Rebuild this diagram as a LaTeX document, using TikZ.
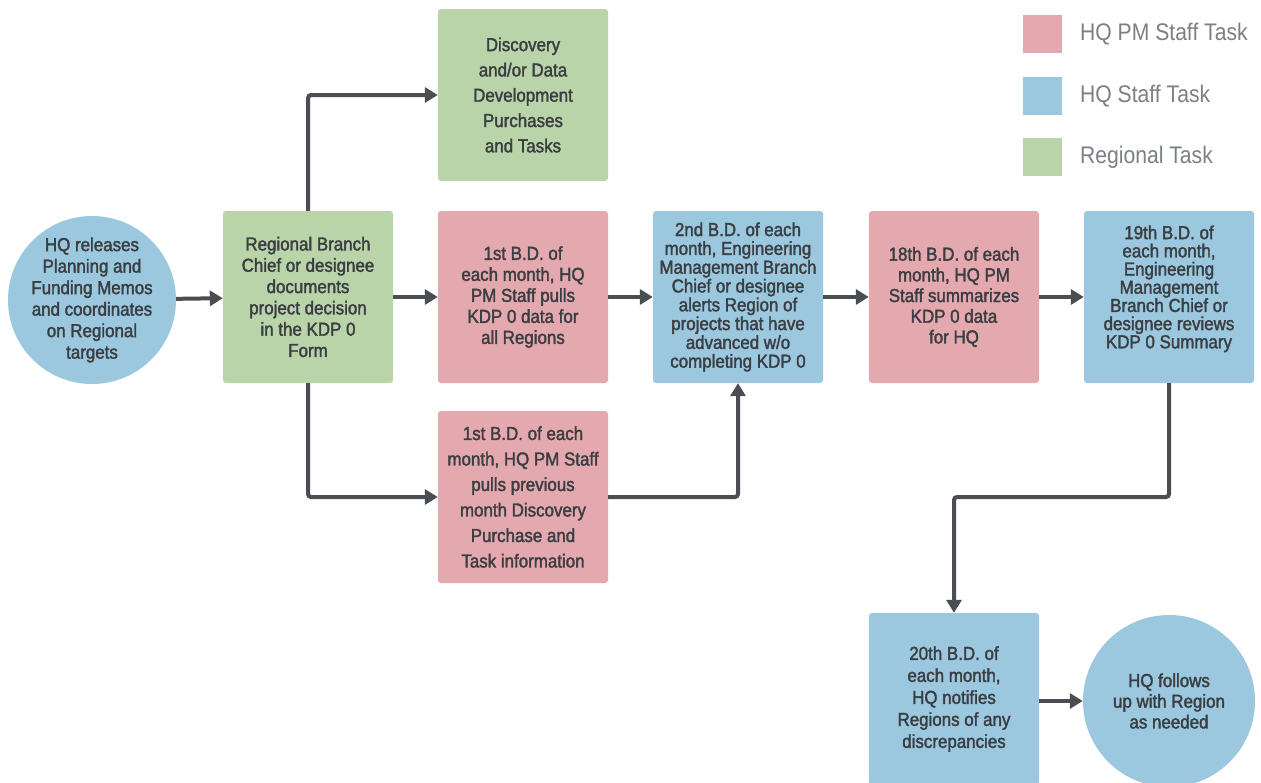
\documentclass[tikz,border=0pt]{standalone}
\usepackage{fontspec}
\setmainfont{Liberation Sans}[FakeStretch=0.88]
\newfontfamily\boxfont{Liberation Sans}[FakeStretch=0.9,FakeBold=1.8]
\usetikzlibrary{arrows.meta}

\definecolor{regional}{HTML}{BAD4AA}
\definecolor{pmstaff}{HTML}{E3A9AF}
\definecolor{hqstaff}{HTML}{9BC8DE}
\definecolor{flowgray}{HTML}{4A4D51}
\definecolor{boxtext}{HTML}{3A3D41}
\definecolor{legendtext}{HTML}{7B8086}

\tikzset{
  x=1pt, y=-1pt,
  lead/.style={font=\boxfont\fontsize{18.8}{#1}\selectfont},
  taskbox/.style={rounded corners=3pt, minimum width=170pt, minimum height=172pt,
    inner sep=0pt, align=center, text=boxtext, lead=21.5},
  hqround/.style={circle, minimum size=168pt, inner sep=0pt, align=center,
    fill=hqstaff, text=boxtext, lead=21.5},
  steptext/.style={inner sep=0pt, align=center, text=boxtext, lead=#1},
  flow/.style={draw=flowgray, line width=4pt, rounded corners=3pt,
    -{Triangle[length=13pt,width=15pt]}},
  swatch/.style={minimum width=39pt, minimum height=38pt, inner sep=0pt},
  legendlabel/.style={anchor=west, inner sep=0pt, text=legendtext,
    font=\fontsize{24}{27}\selectfont},
}

\begin{document}
\begin{tikzpicture}
\useasboundingbox[fill=white] (0,0) rectangle (1261,782);
\clip (0,0) rectangle (1261,782);

% legend
\node[swatch, fill=pmstaff] (lg1) at (1042,34) {};
\node[swatch, fill=hqstaff] (lg2) at (1042,96) {};
\node[swatch, fill=regional] (lg3) at (1042,157) {};
\node[legendlabel] (lt1) at (1080,34) {HQ PM Staff Task};
\node[legendlabel] (lt2) at (1080,96) {HQ Staff Task};
\node[legendlabel] (lt3) at (1080,157) {Regional Task};

% process steps
\node[hqround] (start) at (92,300) {};
\node[steptext=21.5] (startt) at (start.center) {HQ releases\\Planning and\\Funding Memos\\and coordinates\\on Regional\\targets};
\node[taskbox, fill=regional, lead=21.3] (decide) at (308,297) {Regional Branch\\Chief or designee\\documents\\project decision\\in the KDP 0\\Form};
\node[taskbox, fill=regional, lead=25.3] (disc) at (523,95) {Discovery\\and/or Data\\Development\\Purchases\\and Tasks};
\node[taskbox, fill=pmstaff, lead=21] (pull) at (523,297) {1st B.D. of\\each month, HQ\\PM Staff pulls\\KDP 0 data for\\all Regions};
\node[taskbox, fill=pmstaff, lead=25.5] (prev) at (523,497) {1st B.D. of each\\month, HQ PM Staff\\pulls previous\\month Discovery\\Purchase and\\Task information};
\node[taskbox, fill=hqstaff, lead=18.8] (alert) at (738,297) {2nd B.D. of each\\month, Engineering\\Management Branch\\Chief or designee\\alerts Region of\\projects that have\\advanced w/o\\completing KDP 0};
\node[taskbox, fill=pmstaff, lead=20.7] (summ) at (954,297) {18th B.D. of each\\month, HQ PM\\Staff summarizes\\KDP 0 data\\for HQ};
\node[taskbox, fill=hqstaff, lead=18.2] (review) at (1169,297) {19th B.D. of\\each month,\\Engineering\\Management\\Branch Chief or\\designee reviews\\KDP 0 Summary\\[2pt]};
\node[taskbox, fill=hqstaff, lead=22] (notify) at (954,699) {20th B.D. of\\each month,\\HQ notifies\\Regions of any\\discrepancies};
\node[hqround, minimum size=172pt, lead=20.7] (follow) at (1169,701) {HQ follows\\up with Region\\as needed};

% connectors
\draw[flow] (start) -- (decide);
\draw[flow] (decide) -- (pull);
\draw[flow] (decide.north) |- (disc.west);
\draw[flow] (decide.south) |- (prev.west);
\draw[flow] (pull) -- (alert);
\draw[flow] (prev.east) -| (alert.south);
\draw[flow] (alert) -- (summ);
\draw[flow] (summ) -- (review);
\coordinate (turn) at (1169,497);
\draw[flow] (review.south) -- (turn) -| (notify.north);
\draw[flow] (notify.east |- follow.west) -- (follow.west);
\end{tikzpicture}
\end{document}
